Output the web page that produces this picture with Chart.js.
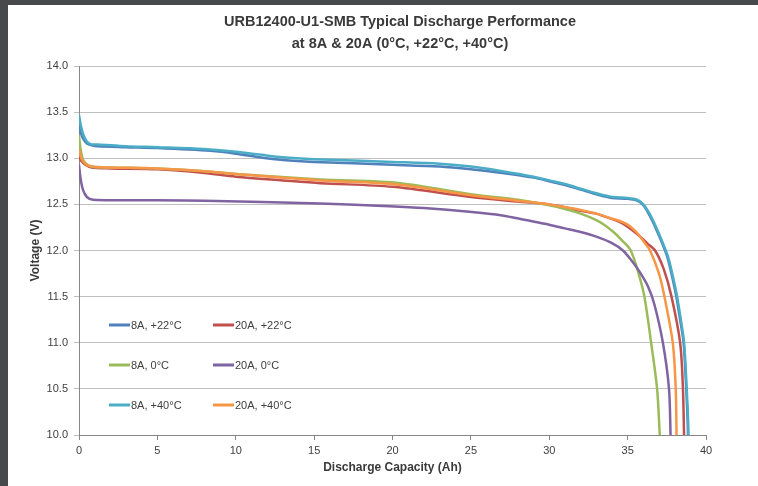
<!DOCTYPE html>
<html>
<head>
<meta charset="utf-8">
<title>URB12400-U1-SMB Discharge</title>
<script src="https://cdn.jsdelivr.net/npm/chart.js@4.4.0/dist/chart.umd.min.js"></script>
<style>
	html, body { margin: 0; padding: 0; background: #48494b; }
	#wrap { position: absolute; left: 8px; top: 5px; width: 750px; height: 481px; background: #fff; }
</style>
</head>
<body>
<div id="wrap"><canvas id="dischargeChart" width="750" height="481"></canvas></div>
<script>
//chart data (Ah, V)

const titleLines = ['URB12400-U1-SMB Typical Discharge Performance', 'at 8A & 20A (0°C, +22°C, +40°C)'];
const xTicks = [0, 5, 10, 15, 20, 25, 30, 35, 40];
const yTicks = [10.0, 10.5, 11.0, 11.5, 12.0, 12.5, 13.0, 13.5, 14.0];

const cap8A22 = [0, 0.1, 0.27, 0.5, 0.8, 1.2, 3, 5, 8.4, 10, 11.5, 13, 15, 20, 23, 25, 27, 29, 30, 31, 32, 33, 34, 35, 35.6, 36, 36.4, 36.8, 37.2, 37.55, 38.05, 38.3, 38.57, 38.74, 38.83, 38.85];
const volt8A22 = [13.35, 13.28, 13.21, 13.16, 13.14, 13.13, 13.12, 13.11, 13.08, 13.05, 13.01, 12.98, 12.96, 12.93, 12.91, 12.88, 12.84, 12.79, 12.75, 12.71, 12.66, 12.61, 12.57, 12.56, 12.54, 12.49, 12.38, 12.24, 12.08, 11.92, 11.55, 11.30, 11.0, 10.5, 10.15, 10.0];

const cap20A22 = [0, 0.15, 0.4, 0.8, 2, 5, 8, 10, 13, 15.4, 20, 25, 28, 30, 31, 32, 33, 33.5, 34.2, 34.7, 35.3, 35.8, 36.3, 36.75, 37.3, 37.8, 38.35, 38.53, 38.6];
const volt20A22 = [13.02, 12.97, 12.93, 12.90, 12.89, 12.88, 12.84, 12.80, 12.76, 12.73, 12.69, 12.58, 12.53, 12.50, 12.47, 12.43, 12.40, 12.37, 12.33, 12.29, 12.22, 12.15, 12.07, 12.0, 11.8, 11.5, 11.0, 10.5, 10.0];

const cap8A0 = [0, 0.1, 0.3, 0.8, 2, 5, 8, 10, 15.4, 20.5, 25, 28, 30, 31, 32, 33, 33.5, 34.1, 34.7, 35.2, 35.7, 36.07, 36.5, 36.88, 37.05];
const volt8A0 = [13.25, 13.10, 12.97, 12.91, 12.90, 12.89, 12.86, 12.83, 12.77, 12.73, 12.61, 12.55, 12.49, 12.45, 12.40, 12.33, 12.28, 12.20, 12.10, 12.0, 11.75, 11.5, 11.0, 10.5, 10.0];

const cap20A0 = [0, 0.1, 0.25, 0.5, 0.9, 3, 8, 15.4, 19.8, 22, 24.9, 27, 28.5, 30, 31, 32, 33, 34, 34.7, 35.3, 35.8, 36.3, 36.7, 37.25, 37.64, 37.74];
const volt20A0 = [12.93, 12.78, 12.66, 12.58, 12.55, 12.545, 12.54, 12.51, 12.48, 12.46, 12.42, 12.38, 12.33, 12.28, 12.24, 12.20, 12.15, 12.08, 12.0, 11.88, 11.76, 11.61, 11.42, 11.0, 10.5, 10.0];

const cap8A40 = [0, 0.1, 0.27, 0.5, 0.8, 1.2, 3, 5, 8, 10, 11.5, 13, 15, 20, 23, 25, 27, 29, 30, 31, 32, 33, 34, 35, 35.6, 36, 36.4, 36.8, 37.2, 37.6, 38.1, 38.35, 38.6, 38.77, 38.86, 38.88];
const volt8A40 = [13.47, 13.37, 13.26, 13.18, 13.15, 13.15, 13.13, 13.12, 13.10, 13.07, 13.04, 13.01, 12.99, 12.96, 12.94, 12.91, 12.86, 12.80, 12.76, 12.72, 12.67, 12.62, 12.58, 12.57, 12.55, 12.50, 12.40, 12.26, 12.10, 11.92, 11.55, 11.30, 11.0, 10.5, 10.15, 10.0];

const cap20A40 = [0, 0.15, 0.4, 0.8, 2, 5, 8, 10, 15.4, 20, 25, 28, 30, 31, 32, 33, 33.9, 34.5, 35, 35.5, 35.8, 36.1, 36.43, 37.0, 37.35, 37.88, 38.07, 38.12];
const volt20A40 = [13.10, 13.00, 12.94, 12.91, 12.90, 12.89, 12.86, 12.83, 12.76, 12.72, 12.60, 12.54, 12.50, 12.47, 12.44, 12.40, 12.35, 12.32, 12.28, 12.21, 12.15, 12.08, 12.0, 11.75, 11.5, 11.0, 10.5, 10.0];

//series list, in legend order (row by row)
const series = [
	{ label: '8A, +22°C', cap: cap8A22, volt: volt8A22, color: '#4F81BD', order: 5 },
	{ label: '20A, +22°C', cap: cap20A22, volt: volt20A22, color: '#C0504D', order: 4 },
	{ label: '8A, 0°C', cap: cap8A0, volt: volt8A0, color: '#9BBB59', order: 3 },
	{ label: '20A, 0°C', cap: cap20A0, volt: volt20A0, color: '#8064A2', order: 2 },
	{ label: '8A, +40°C', cap: cap8A40, volt: volt8A40, color: '#4BACC6', order: 1 },
	{ label: '20A, +40°C', cap: cap20A40, volt: volt20A40, color: '#F79646', order: 0 }
];

const datasets = series.map(s => ({
	label: s.label,
	data: s.cap.map((c, i) => ({ x: c, y: s.volt[i] })),
	borderColor: s.color,
	backgroundColor: s.color,
	borderWidth: 2.5,
	pointRadius: 0,
	tension: 0.3,
	showLine: true,
	fill: false,
	order: s.order
}));

const textFont = '"Liberation Sans", Arial, sans-serif';

//title drawn by hand so it can sit where the original one sits
const titlePlugin = {
	id: 'twoLineTitle',
	afterDraw(chart) {
		const c = chart.ctx;
		c.save();
		c.fillStyle = '#3a3a3a';
		c.font = 'bold 14.5px ' + textFont;
		c.textAlign = 'center';
		c.textBaseline = 'middle';
		titleLines.forEach((t, i) => c.fillText(t, 392, 17 + i * 22));
		c.restore();
	}
};

//legend inside the plot, 2 columns x 3 rows
const innerLegend = {
	id: 'innerLegend',
	afterDraw(chart) {
		const c = chart.ctx;
		const area = chart.chartArea;
		c.save();
		c.font = '11px ' + textFont;
		c.textBaseline = 'middle';
		c.fillStyle = '#404040';
		series.forEach((s, i) => {
			const col = i % 2;
			const row = Math.floor(i / 2);
			const x = area.left + 30 + col * 104;
			const y = area.top + 259 + row * 40;
			c.strokeStyle = s.color;
			c.lineWidth = 3;
			c.beginPath();
			c.moveTo(x, y);
			c.lineTo(x + 21, y);
			c.stroke();
			c.fillText(s.label, x + 22, y + 1);
		});
		c.restore();
	}
};

const config = {
	type: 'scatter',
	data: { datasets: datasets },
	options: {
		responsive: false,
		animation: false,
		layout: { padding: { top: 61, right: 52, left: 0, bottom: 0 } },
		plugins: {
			legend: { display: false },
			tooltip: { enabled: false },
			title: { display: false }
		},
		scales: {
			x: {
				type: 'linear',
				min: 0,
				max: 40,
				afterBuildTicks: axis => { axis.ticks = xTicks.map(v => ({ value: v })); },
				afterFit: axis => { axis.height = 51; },
				grid: { drawOnChartArea: false, drawTicks: true, tickLength: 5, color: '#868686' },
				border: { display: true, color: '#868686', width: 1 },
				ticks: { color: '#404040', font: { size: 11, family: textFont }, padding: 4, maxRotation: 0 },
				title: {
					display: true,
					text: 'Discharge Capacity (Ah)',
					color: '#3a3a3a',
					font: { size: 12, weight: 'bold', family: textFont },
					padding: { top: 0, bottom: 11 }
				}
			},
			y: {
				type: 'linear',
				min: 10,
				max: 14,
				afterBuildTicks: axis => { axis.ticks = yTicks.map(v => ({ value: v })); },
				afterFit: axis => { axis.width = 71; },
				grid: { color: '#c0c0c0', lineWidth: 1, tickLength: 5, drawTicks: true },
				border: { display: true, color: '#868686', width: 1 },
				ticks: {
					color: '#404040',
					font: { size: 11, family: textFont },
					padding: 6,
					callback: v => v.toFixed(1)
				},
				title: {
					display: true,
					text: 'Voltage (V)',
					color: '#3a3a3a',
					font: { size: 12, weight: 'bold', family: textFont },
					padding: { top: 20, bottom: 0 }
				}
			}
		}
	},
	plugins: [titlePlugin, innerLegend]
};

const ctx = document.getElementById('dischargeChart').getContext('2d');
const chart = new Chart(ctx, config);
</script>
</body>
</html>
